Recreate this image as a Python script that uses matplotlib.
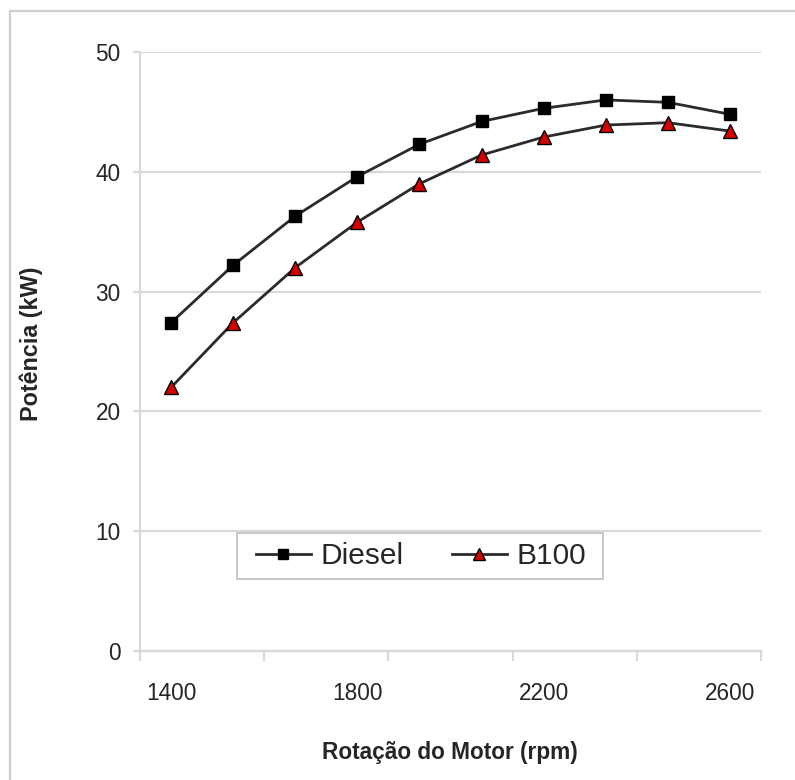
import matplotlib
matplotlib.use("Agg")
import matplotlib.pyplot as plt
from matplotlib.patches import Rectangle
import numpy as np

plt.rcParams['font.family'] = ['Liberation Sans', 'DejaVu Sans']

rpm = [1400, 1533, 1667, 1800, 1933, 2067, 2200, 2333, 2467, 2600]
diesel = [27.4, 32.2, 36.3, 39.6, 42.3, 44.2, 45.3, 46.0, 45.8, 44.8]
b100 = [22.0, 27.4, 32.0, 35.8, 39.0, 41.4, 42.9, 43.9, 44.1, 43.4]
x_labels = ['1400', '1800', '2200', '2600']
y_ticks = [0, 10, 20, 30, 40, 50]

W, H = 795, 780
fig = plt.figure(figsize=(W / 100, H / 100), dpi=100)
fig.patch.set_facecolor('white')

# outer chart-area border
fig.patches.append(Rectangle((10 / W, -0.05), 1.2, 1 - 11 / H + 0.05,
                             transform=fig.transFigure, fill=False,
                             edgecolor='#cfcfcf', linewidth=1.6, zorder=0))

ax = fig.add_axes([140 / W, 1 - 651 / H, (761 - 140) / W, (651 - 52) / H])
idx = np.arange(len(rpm))
grid_c = '#d9d9d9'
text_c = '#262626'

ax.plot(idx, diesel, color='#2b2b2b', lw=2.0, marker='s', markersize=8,
        markerfacecolor='black', markeredgecolor='black', label='Diesel', zorder=3)
ax.plot(idx, b100, color='#2b2b2b', lw=2.0, marker='^', markersize=9.5,
        markerfacecolor='#d40000', markeredgecolor='black', markeredgewidth=1.0,
        label='B100', zorder=3)

ax.set_xlim(-0.5, len(rpm) - 0.5)
ax.set_ylim(0, 50)
ax.set_yticks(y_ticks)
ax.set_yticklabels([str(v) for v in y_ticks])
ax.yaxis.grid(True, color=grid_c, lw=1.6)
ax.set_axisbelow(True)

# tick marks at category boundaries every 2 categories, labels every 3 categories
ax.set_xticks(np.arange(-0.5, len(rpm), 2.0))
ax.set_xticklabels([])
lab_pos = [rpm.index(int(s)) for s in x_labels]
ax.set_xticks(lab_pos, minor=True)
ax.set_xticklabels(x_labels, minor=True)
ax.tick_params(axis='x', which='major', length=7, width=1.6, color=grid_c)
ax.tick_params(axis='x', which='minor', length=0, pad=22, labelsize=16.3, labelcolor=text_c)
ax.tick_params(axis='y', length=5, width=1.6, color=grid_c, pad=9, labelsize=16.3, labelcolor=text_c)

for s in ['top', 'right']:
    ax.spines[s].set_visible(False)
for s in ['left', 'bottom']:
    ax.spines[s].set_color(grid_c)
    ax.spines[s].set_linewidth(1.6)

fig.text(450 / W, 1 - 753 / H, 'Rotação do Motor (rpm)', ha='center', va='center',
         fontsize=16.3, fontweight='bold', color=text_c)
fig.text(31 / W, 1 - 344 / H, 'Potência (kW)', ha='center', va='center',
         rotation=90, fontsize=16.8, fontweight='bold', color=text_c)

# legend box (drawn separately for Excel-like padding)
box = Rectangle((237 / W, 1 - 579 / H), (603 - 237) / W, (579 - 533) / H,
                transform=fig.transFigure, facecolor='white',
                edgecolor='#bdbdbd', linewidth=1.2, zorder=4, clip_on=False)
ax.add_artist(box)
leg = ax.legend(loc='center', bbox_to_anchor=(421 / W, 1 - 556 / H),
                bbox_transform=fig.transFigure, ncol=2, fontsize=21.5,
                frameon=False, handlelength=1.85, handletextpad=0.33,
                columnspacing=1.6, borderpad=0.2, borderaxespad=0, markerscale=0.85)
leg.set_zorder(5)
for t in leg.get_texts():
    t.set_color(text_c)

fig.savefig('out.png', dpi=100)
